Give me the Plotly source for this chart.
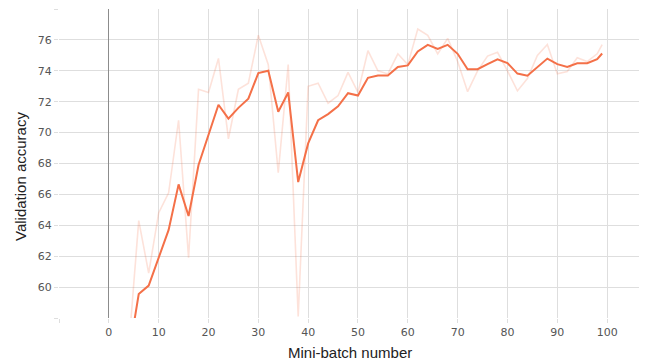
import plotly.graph_objects as go

steps = [4, 6, 8, 10, 12, 14, 16, 18, 20, 22, 24, 26, 28, 30, 32, 34, 36, 38, 40, 42,
         44, 46, 48, 50, 52, 54, 56, 58, 60, 62, 64, 66, 68, 70, 72, 74, 76, 78, 80, 82,
         84, 86, 88, 90, 92, 94, 96, 98, 99]

raw_acc = [56.1, 64.3, 60.9, 64.8, 66.1, 70.8, 61.9, 72.8, 72.6, 74.8, 69.6, 72.8, 73.2, 76.3, 74.4, 67.4, 74.4, 58.1, 73.0, 73.2,
           71.9, 72.4, 73.9, 72.6, 75.3, 74.0, 73.8, 75.1, 74.4, 76.7, 76.3, 75.1, 76.1, 74.6, 72.65, 74.0, 74.95, 75.2, 74.0, 72.7,
           73.5, 75.0, 75.7, 73.8, 73.95, 74.85, 74.6, 75.1, 75.7]

smooth_acc = [55.6, 59.55, 60.1, 61.9, 63.7, 66.65, 64.6, 67.9, 69.9, 71.8, 70.9, 71.6, 72.2, 73.85, 74.0, 71.35, 72.6, 66.8, 69.3, 70.8,
              71.2, 71.7, 72.55, 72.4, 73.55, 73.7, 73.7, 74.25, 74.35, 75.25, 75.68, 75.42, 75.68, 75.1, 74.1, 74.1, 74.43, 74.74, 74.5, 73.82,
              73.68, 74.25, 74.79, 74.43, 74.25, 74.49, 74.49, 74.75, 75.12]

x_ticks = [-10, 0, 10, 20, 30, 40, 50, 60, 70, 80, 90, 100]
x_tick_text = ["", "0", "10", "20", "30", "40", "50", "60", "70", "80", "90", "100"]
y_ticks = [58, 60, 62, 64, 66, 68, 70, 72, 74, 76, 78]
y_tick_text = ["", "60", "62", "64", "66", "68", "70", "72", "74", "76", ""]

color = "rgb(244,112,72)"

fig = go.Figure()
fig.add_trace(go.Scatter(x=steps, y=raw_acc, mode="lines",
                         line=dict(color="rgba(244,112,72,0.2)", width=1.6),
                         hoverinfo="skip", showlegend=False))
fig.add_trace(go.Scatter(x=steps, y=smooth_acc, mode="lines",
                         line=dict(color=color, width=2),
                         showlegend=False))

W, H = 639, 354
L, B, T = 51, 44, 1
PW, PH = W - L, H - B - T

grid = "#dedede"
fig.update_layout(
    width=W, height=H,
    margin=dict(l=L, r=0, t=T, b=B),
    plot_bgcolor="white", paper_bgcolor="white",
    font=dict(family="DejaVu Sans", size=11, color="#555"),
    xaxis=dict(range=[-10, 108], tickvals=x_ticks, ticktext=x_tick_text,
               showgrid=True, gridcolor=grid, gridwidth=1,
               zeroline=True, zerolinecolor="#8c8c8c", zerolinewidth=1,
               ticks="outside", ticklen=4, tickcolor=grid, showline=False),
    yaxis=dict(range=[58, 78], tickvals=y_ticks, ticktext=y_tick_text,
               showgrid=True, gridcolor=grid, gridwidth=1, zeroline=False,
               ticks="outside", ticklen=4, tickcolor=grid, showline=False),
    annotations=[
        dict(text="Validation accuracy", textangle=-90, xref="paper", yref="paper",
             x=(12 - L) / PW, y=(PH + T - 169) / PH, xanchor="center", yanchor="middle",
             showarrow=False, font=dict(family="Liberation Sans", size=15, color="#222")),
        dict(text="Mini-batch number", xref="paper", yref="paper",
             x=(342 - L) / PW, y=(PH + T - 344) / PH, xanchor="center", yanchor="middle",
             showarrow=False, font=dict(family="Liberation Sans", size=15, color="#222")),
    ],
)

fig.write_html("out.html")
